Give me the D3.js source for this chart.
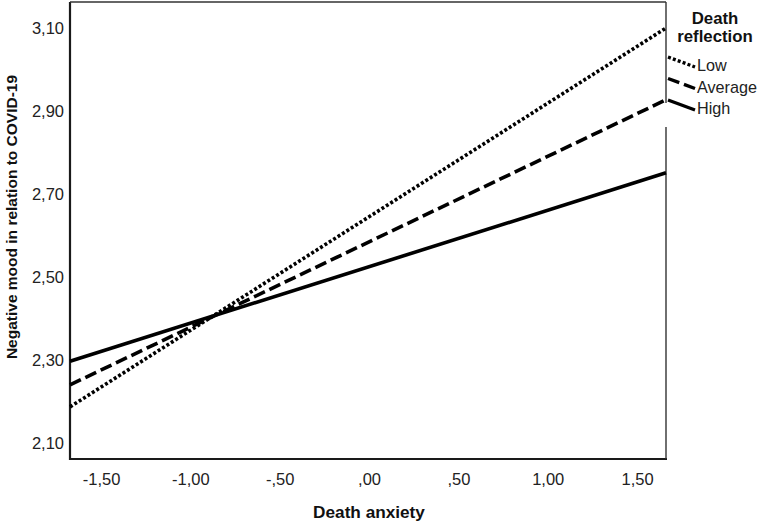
<!DOCTYPE html>
<html><head><meta charset="utf-8">
<script src="https://cdn.jsdelivr.net/npm/d3@7"></script>
<style>
html,body{margin:0;padding:0;background:#fff;}
svg{display:block;font-family:"Liberation Sans",Arial,sans-serif;}
</style></head>
<body>
<svg id="chart" width="762" height="522"></svg>
<script>
// Data
const xRange = [-1.674, 1.662];
const seriesNames = ["Low", "Average", "High"];
const lowValues = [2.187, 3.100];
const averageValues = [2.240, 2.927];
const highValues = [2.297, 2.751];
const xTicks = [-1.5, -1.0, -0.5, 0, 0.5, 1.0, 1.5];
const yTicks = [2.10, 2.30, 2.50, 2.70, 2.90, 3.10];
const xTitle = "Death anxiety";
const yTitle = "Negative mood in relation to COVID-19";
const legendTitle = ["Death", "reflection"];

(function () {
const svg = d3.select("#chart");
const pL = 70, pR = 666, pT = 2, pB = 459;
const x = d3.scaleLinear().domain([-1.674, 1.662]).range([pL, pR]);
const y = d3.scaleLinear().domain([2.0614, 3.1627]).range([pB, pT]);

const fmt = v => {
  let s = Math.abs(v).toFixed(2).replace(".", ",");
  if (Math.abs(v) < 1) s = s.replace(/^0/, "");
  return (v < 0 ? "-" : "") + s;
};

// frame
svg.append("line").attr("x1", pL).attr("x2", pL).attr("y1", pT).attr("y2", pB + 1)
  .attr("stroke", "#1a1a1a").attr("stroke-width", 2.2);
svg.append("line").attr("x1", pL - 1).attr("x2", pR + 1).attr("y1", pB).attr("y2", pB)
  .attr("stroke", "#1a1a1a").attr("stroke-width", 2.2);
svg.append("line").attr("x1", pL).attr("x2", pR).attr("y1", pT).attr("y2", pT)
  .attr("stroke", "#333").attr("stroke-width", 1.6);
svg.append("line").attr("x1", pR).attr("x2", pR).attr("y1", pT).attr("y2", 103)
  .attr("stroke", "#333").attr("stroke-width", 1.4);
svg.append("line").attr("x1", pR).attr("x2", pR).attr("y1", 127).attr("y2", pB)
  .attr("stroke", "#333").attr("stroke-width", 1.4);

// axes (labels only, SPSS-like)
const xAxis = d3.axisBottom(x).tickValues(xTicks).tickFormat(fmt).tickSize(0).tickPadding(0);
const gx = svg.append("g").attr("transform", `translate(0,${pB + 14})`).call(xAxis);
gx.select(".domain").remove();
gx.selectAll("text").attr("font-size", 16.5).attr("fill", "#222")
  .attr("font-family", "Liberation Sans, Arial, sans-serif").attr("dy", "0.71em");

const yAxis = d3.axisLeft(y).tickValues(yTicks).tickFormat(fmt).tickSize(0).tickPadding(0);
const gy = svg.append("g").attr("transform", `translate(${pL - 6},0)`).call(yAxis);
gy.select(".domain").remove();
gy.selectAll("text").attr("font-size", 16.5).attr("fill", "#222")
  .attr("font-family", "Liberation Sans, Arial, sans-serif");

// titles
svg.append("text").attr("x", 369).attr("y", 518).attr("text-anchor", "middle")
  .attr("font-size", 17.2).attr("font-weight", "bold").attr("fill", "#111").text(xTitle);
svg.append("text").attr("transform", "translate(17,217) rotate(-90)").attr("text-anchor", "middle")
  .attr("font-size", 15.5).attr("font-weight", "bold").attr("fill", "#111").text(yTitle);

// lines
const styles = {Low: "3,2.2", Average: "12,5", High: null};
const data = [
  {name: "Low", vals: lowValues},
  {name: "Average", vals: averageValues},
  {name: "High", vals: highValues}
];
const line = d3.line().x(d => x(d[0])).y(d => y(d[1]));
data.forEach(s => {
  const pts = xRange.map((xv, i) => [xv, s.vals[i]]);
  svg.append("path").attr("d", line(pts)).attr("fill", "none")
    .attr("stroke", "#000").attr("stroke-width", 3.6)
    .attr("stroke-dasharray", styles[s.name]);
});

// legend
const lg = svg.append("g");
legendTitle.forEach((t, i) => {
  lg.append("text").attr("x", 715).attr("y", 24 + i * 18).attr("text-anchor", "middle")
    .attr("font-size", 16.8).attr("font-weight", "bold").attr("fill", "#111").text(t);
});
seriesNames.forEach((n, i) => {
  const y0 = 57 + i * 21.5;
  lg.append("line").attr("x1", 668).attr("y1", y0).attr("x2", 695).attr("y2", y0 + 10)
    .attr("stroke", "#000").attr("stroke-width", 3.4).attr("stroke-dasharray", styles[n]);
  lg.append("text").attr("x", 697).attr("y", y0 + 14).attr("font-size", 16.2)
    .attr("fill", "#222").text(n);
});
})();
</script>
</body></html>
